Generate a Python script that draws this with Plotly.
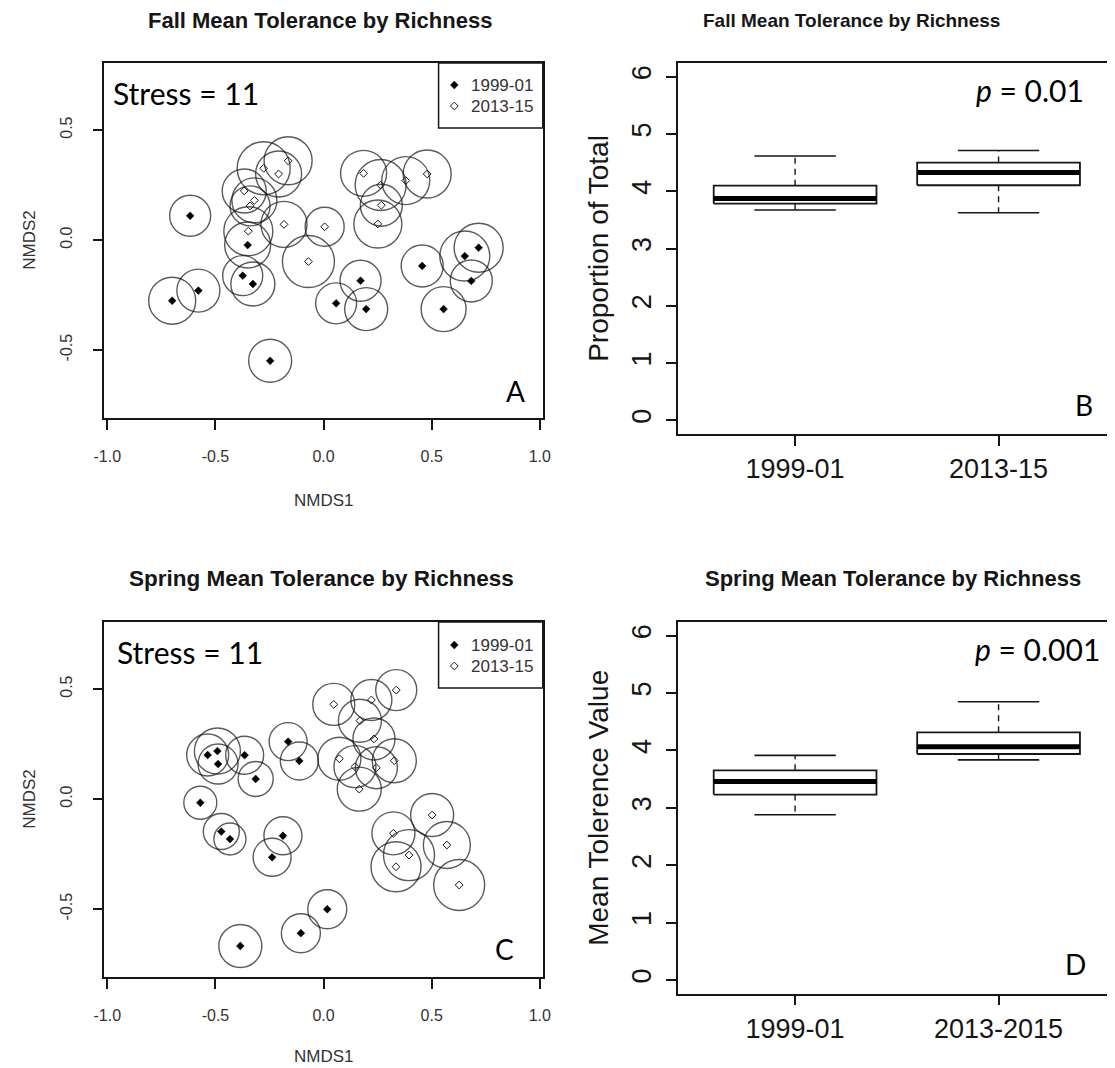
import plotly.graph_objects as go

# ---------------- NMDS ordination scores ----------------
# Fall, 1999-01 sites
fall_old_x = [-0.617, -0.351, -0.374, -0.327, -0.700, -0.579, -0.247, 0.058, 0.171, 0.197, 0.456, 0.555, 0.653, 0.717, 0.683]
fall_old_y = [0.110, -0.023, -0.162, -0.200, -0.276, -0.230, -0.549, -0.288, -0.185, -0.314, -0.118, -0.314, -0.073, -0.035, -0.186]
fall_old_rich = [41, 46, 40, 44, 47, 43, 43, 41, 41, 43, 42, 45, 50, 49, 42]
# Fall, 2013-15 sites
fall_new_x = [-0.277, -0.208, -0.164, -0.367, -0.320, -0.340, -0.348, -0.183, 0.005, -0.070, 0.185, 0.264, 0.380, 0.479, 0.267, 0.251]
fall_new_y = [0.326, 0.300, 0.360, 0.223, 0.180, 0.155, 0.040, 0.071, 0.060, -0.098, 0.303, 0.250, 0.270, 0.300, 0.158, 0.073]
fall_new_rich = [53, 46, 48, 44, 45, 40, 49, 46, 39, 52, 46, 51, 48, 48, 42, 48]

# Spring, 1999-01 sites
spr_old_x = [-0.536, -0.491, -0.488, -0.365, -0.314, -0.570, -0.473, -0.433, -0.188, -0.238, -0.164, -0.112, 0.017, -0.105, -0.385]
spr_old_y = [0.200, 0.218, 0.159, 0.199, 0.091, -0.017, -0.148, -0.182, -0.167, -0.265, 0.261, 0.173, -0.501, -0.610, -0.668]
spr_old_rich = [42, 46, 40, 38, 35, 33, 36, 32, 38, 38, 38, 38, 39, 39, 43]
# Spring, 2013-15 sites
spr_new_x = [0.047, 0.221, 0.336, 0.168, 0.233, 0.073, 0.145, 0.244, 0.327, 0.165, 0.502, 0.323, 0.570, 0.395, 0.335, 0.627]
spr_new_y = [0.430, 0.450, 0.495, 0.356, 0.273, 0.183, 0.147, 0.142, 0.174, 0.045, -0.073, -0.156, -0.209, -0.255, -0.308, -0.391]
spr_new_rich = [42, 41, 41, 43, 42, 43, 42, 42, 44, 44, 43, 43, 47, 51, 50, 51]

period_labels = ["1999-01", "2013-15"]

# ---------------- Box-plot summaries (lower, Q1, median, Q3, upper) ----------------
fall_groups = ["1999-01", "2013-15"]
fall_lower = [3.673, 3.624]
fall_q1 = [3.783, 4.105]
fall_median = [3.874, 4.328]
fall_q3 = [4.098, 4.500]
fall_upper = [4.615, 4.711]

spring_groups = ["1999-01", "2013-2015"]
spring_lower = [2.879, 3.836]
spring_q1 = [3.231, 3.939]
spring_median = [3.461, 4.066]
spring_q3 = [3.655, 4.316]
spring_upper = [3.915, 4.849]

W, H = 1115, 1068
INK = "#161616"
SANS = "Liberation Sans"
NOTE = "Lato"
CLEAR = "rgba(0,0,0,0)"


def fx(p):
    return p / W


def fy(p):
    return 1 - p / H


fig = go.Figure()

# ---------------- ordination panels ----------------
def nmds_panel(xa, ya, ox, oy, orich, nx, ny, nrich):
    for xs, ys, rich in ((ox, oy, orich), (nx, ny, nrich)):
        fig.add_trace(go.Scatter(
            x=xs, y=ys, mode="markers", xaxis=xa, yaxis=ya, showlegend=False,
            marker=dict(symbol="circle-open", size=rich, color=INK,
                        line=dict(color=INK, width=1.4)),
            hoverinfo="skip"))
    fig.add_trace(go.Scatter(
        x=ox, y=oy, mode="markers", xaxis=xa, yaxis=ya, showlegend=False,
        marker=dict(symbol="diamond", size=6, color="black",
                    line=dict(color="black", width=0.5))))
    fig.add_trace(go.Scatter(
        x=nx, y=ny, mode="markers", xaxis=xa, yaxis=ya, showlegend=False,
        marker=dict(symbol="diamond-open", size=6, color=INK,
                    line=dict(color=INK, width=1))))


nmds_panel("x", "y", fall_old_x, fall_old_y, fall_old_rich,
           fall_new_x, fall_new_y, fall_new_rich)
nmds_panel("x3", "y3", spr_old_x, spr_old_y, spr_old_rich,
           spr_new_x, spr_new_y, spr_new_rich)


# ---------------- box-plot panels ----------------
def box_panel(xa, ya, lower, q1, med, q3, upper):
    half, cap = 0.4, 0.2
    for i in range(len(med)):
        c = i + 1
        # dashed whiskers
        fig.add_trace(go.Scatter(
            x=[c, c, None, c, c], y=[q3[i], upper[i], None, q1[i], lower[i]],
            mode="lines", xaxis=xa, yaxis=ya, showlegend=False, hoverinfo="skip",
            line=dict(color=INK, width=1.4, dash="6px,5px")))
        # whisker caps
        fig.add_trace(go.Scatter(
            x=[c - cap, c + cap, None, c - cap, c + cap],
            y=[upper[i], upper[i], None, lower[i], lower[i]],
            mode="lines", xaxis=xa, yaxis=ya, showlegend=False, hoverinfo="skip",
            line=dict(color=INK, width=1.6)))
        # box
        fig.add_trace(go.Scatter(
            x=[c - half, c + half, c + half, c - half, c - half],
            y=[q1[i], q1[i], q3[i], q3[i], q1[i]],
            mode="lines", fill="toself", fillcolor="white",
            xaxis=xa, yaxis=ya, showlegend=False, hoverinfo="skip",
            line=dict(color=INK, width=1.8)))
        # median
        fig.add_trace(go.Scatter(
            x=[c - half, c + half], y=[med[i], med[i]],
            mode="lines", xaxis=xa, yaxis=ya, showlegend=False, hoverinfo="skip",
            line=dict(color="black", width=5)))


box_panel("x2", "y2", fall_lower, fall_q1, fall_median, fall_q3, fall_upper)
box_panel("x4", "y4", spring_lower, spring_q1, spring_median, spring_q3, spring_upper)

# ---------------- legend keys (pixel overlay) ----------------
for ky in (85, 645):
    fig.add_trace(go.Scatter(
        x=[451], y=[ky], mode="markers", xaxis="x5", yaxis="y5", showlegend=False,
        marker=dict(symbol="diamond", size=6, color="black",
                    line=dict(color="black", width=0.5))))
    fig.add_trace(go.Scatter(
        x=[451], y=[ky + 21], mode="markers", xaxis="x5", yaxis="y5", showlegend=False,
        marker=dict(symbol="diamond-open", size=6, color=INK,
                    line=dict(color=INK, width=1))))

# ---------------- axes ----------------
common = dict(showgrid=False, zeroline=False, showline=True, linecolor=INK,
              linewidth=1.5, ticks="outside", ticklen=10, tickwidth=1.5,
              tickcolor=INK)
small_tick = dict(family=SANS, size=16, color="#333333")
big_tick = dict(family=SANS, size=27, color=INK)

nm_x = dict(common, range=[-1.0136, 1.0136], mirror=True,
            tickvals=[-1.0, -0.5, 0.0, 0.5, 1.0],
            ticktext=["-1.0", "-0.5", "0.0", "0.5", "1.0"],
            tickfont=small_tick, ticklabelstandoff=13)
nm_y = dict(common, range=[-0.809, 0.8045], mirror=True,
            tickvals=[-0.5, 0.0, 0.5], ticktext=["-0.5", "0.0", "0.5"],
            tickfont=small_tick, tickangle=-90, ticklabelstandoff=14)

bx_y = dict(common, range=[-0.24, 6.24], mirror=False,
            tickvals=[0, 1, 2, 3, 4, 5, 6], tickfont=big_tick, tickangle=-90,
            ticklabelstandoff=4)

fig.update_layout(
    width=W, height=H,
    margin=dict(l=0, r=0, t=0, b=0),
    paper_bgcolor="white", plot_bgcolor=CLEAR,
    showlegend=False,
    xaxis=dict(nm_x, domain=[fx(95), fx(541)], anchor="y"),
    yaxis=dict(nm_y, domain=[fy(418), fy(63)], anchor="x"),
    xaxis3=dict(nm_x, domain=[fx(95), fx(541)], anchor="y3"),
    yaxis3=dict(nm_y, domain=[fy(977), fy(622)], anchor="x3"),
    xaxis2=dict(common, range=[0.4237, 2.533], mirror=True, domain=[fx(678.4), 1],
                tickvals=[1, 2], ticktext=fall_groups, tickfont=big_tick,
                ticklabelstandoff=0, anchor="y2"),
    yaxis2=dict(bx_y, domain=[fy(434), fy(63)], anchor="x2"),
    xaxis4=dict(common, range=[0.4237, 2.533], mirror=True, domain=[fx(678.4), 1],
                tickvals=[1, 2], ticktext=spring_groups, tickfont=big_tick,
                ticklabelstandoff=0, anchor="y4"),
    yaxis4=dict(bx_y, domain=[fy(993.7), fy(622)], anchor="x4"),
    xaxis5=dict(range=[0, W], domain=[0, 1], visible=False, anchor="y5",
                fixedrange=True),
    yaxis5=dict(range=[H, 0], domain=[0, 1], visible=False, anchor="x5",
                fixedrange=True),
)

# legend frames
for top, bot in ((63, 128), (622, 688)):
    fig.add_shape(type="rect", xref="paper", yref="paper",
                  x0=fx(435), x1=fx(541), y0=fy(bot), y1=fy(top),
                  line=dict(color=INK, width=1.5), fillcolor=CLEAR)


def note(text, x, y, size, family=SANS, color=INK, angle=0, bold=False):
    if bold:
        text = "<b>" + text + "</b>"
    fig.add_annotation(text=text, x=fx(x), y=fy(y), xref="paper", yref="paper",
                       showarrow=False, xanchor="center", yanchor="middle",
                       textangle=angle,
                       font=dict(family=family, size=size, color=color))


# panel titles
note("Fall Mean Tolerance by Richness", 314, 21, 22, bold=True)
note("Fall Mean Tolerance by Richness", 855, 21, 19, bold=True)
note("Spring Mean Tolerance by Richness", 316, 578, 22.5, bold=True)
note("Spring Mean Tolerance by Richness", 897, 578, 22, bold=True)

# axis titles
note("NMDS1", 318, 500, 17, color="#333333")
note("NMDS2", 18, 240, 17, color="#333333", angle=-90)
note("NMDS1", 318, 1056, 17, color="#333333")
note("NMDS2", 18, 799, 17, color="#333333", angle=-90)
note("Proportion of Total", 597, 248, 28, angle=-90)
note("Mean Tolerence Value", 597, 808, 28, angle=-90)

# legend labels
for base in (85, 645):
    note(period_labels[0], 500, base, 17, color="#333333")
    note(period_labels[1], 500, base + 21, 17, color="#333333")

# stress, p-values and panel letters
note("Stress = 11", 178, 93, 30, family=NOTE, color="black")
note("Stress = 11", 182, 652, 30, family=NOTE, color="black")
note("<i>p</i> = 0.01", 1037, 90, 30, family=NOTE, color="black")
note("<i>p</i> = 0.001", 1044, 649, 30, family=NOTE, color="black")
note("A", 513, 391, 28, family=NOTE, color="black")
note("C", 502, 949, 28, family=NOTE, color="black")
note("B", 1092, 405, 28, family=NOTE, color="black")
note("D", 1083, 964, 28, family=NOTE, color="black")

fig.write_html("out.html")
